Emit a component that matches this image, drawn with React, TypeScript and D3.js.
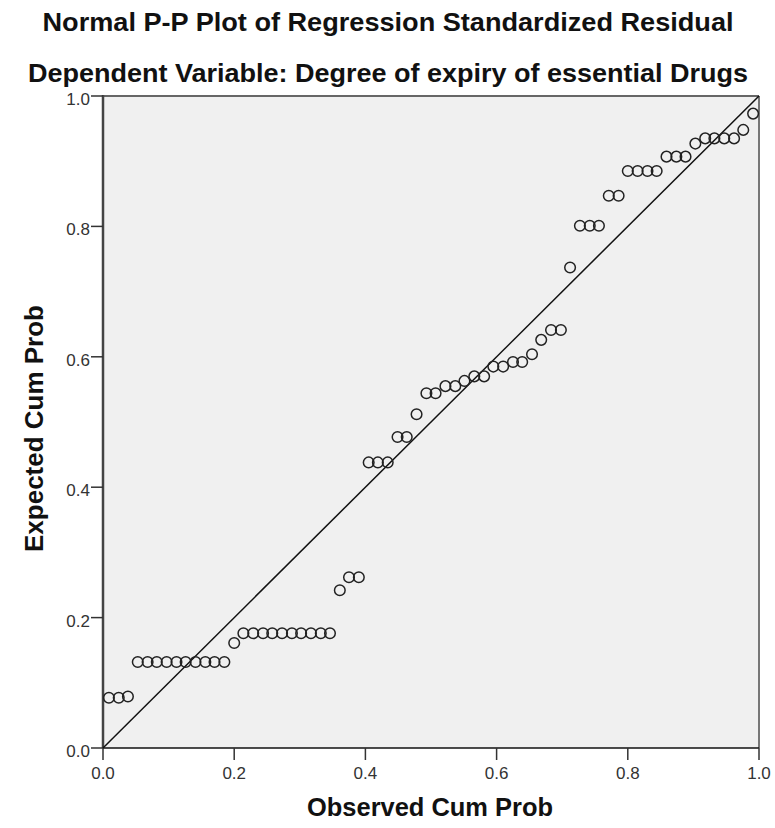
import React from "react";
import * as d3 from "d3";

const observedCumProb = [
  0.009, 0.024, 0.038, 0.053, 0.068, 0.082, 0.097, 0.112, 0.126, 0.141,
  0.156, 0.170, 0.185, 0.200, 0.214, 0.229, 0.244, 0.258, 0.273, 0.288,
  0.302, 0.317, 0.332, 0.346, 0.361, 0.375, 0.390, 0.405, 0.419, 0.434,
  0.449, 0.463, 0.478, 0.493, 0.507, 0.522, 0.537, 0.551, 0.566, 0.581,
  0.595, 0.610, 0.625, 0.639, 0.654, 0.668, 0.683, 0.698, 0.712, 0.727,
  0.742, 0.756, 0.771, 0.786, 0.800, 0.815, 0.830, 0.844, 0.859, 0.874,
  0.888, 0.903, 0.918, 0.932, 0.947, 0.962, 0.976, 0.991,
];

const expectedCumProb = [
  0.077, 0.077, 0.079, 0.132, 0.132, 0.132, 0.132, 0.132, 0.132, 0.132,
  0.132, 0.132, 0.132, 0.161, 0.176, 0.176, 0.176, 0.176, 0.176, 0.176,
  0.176, 0.176, 0.176, 0.176, 0.242, 0.262, 0.262, 0.438, 0.438, 0.438,
  0.477, 0.477, 0.512, 0.544, 0.544, 0.555, 0.555, 0.563, 0.570, 0.570,
  0.585, 0.585, 0.592, 0.592, 0.604, 0.626, 0.641, 0.641, 0.737, 0.801,
  0.801, 0.801, 0.847, 0.847, 0.885, 0.885, 0.885, 0.885, 0.907, 0.907,
  0.907, 0.927, 0.935, 0.935, 0.935, 0.935, 0.948, 0.973,
];

const tickValues = [0, 0.2, 0.4, 0.6, 0.8, 1.0];

const titleLine1 = "Normal P-P Plot of Regression Standardized Residual";
const titleLine2 = "Dependent Variable: Degree of expiry of essential Drugs";
const xTitle = "Observed Cum Prob";
const yTitle = "Expected Cum Prob";

export default function App() {
  const W = 775;
  const H = 828;
  const left = 103;
  const right = 759;
  const top = 96;
  const bottom = 748;

  const x = d3.scaleLinear().domain([0, 1]).range([left, right]);
  const y = d3.scaleLinear().domain([0, 1]).range([bottom, top]);
  const fmt = d3.format(".1f");
  const font = "'Liberation Sans', Arial, sans-serif";

  const points = observedCumProb.map((v, i) => [v, expectedCumProb[i]]);
  const diag = d3.line<number[]>()
    .x((d) => x(d[0]))
    .y((d) => y(d[1]))([[0, 0], [1, 1]]);

  return (
    <svg
      width={W}
      height={H}
      style={{ position: "absolute", left: 0, top: 0, background: "#fff" }}
      fontFamily={font}
    >
      <rect x={0} y={0} width={W} height={H} fill="#fff" />
      <text x={388} y={31} textAnchor="middle" fontSize={25} fontWeight="bold"
        textLength={691} lengthAdjust="spacingAndGlyphs" fill="#111">{titleLine1}</text>
      <text x={388} y={82} textAnchor="middle" fontSize={25} fontWeight="bold"
        textLength={720} lengthAdjust="spacingAndGlyphs" fill="#111">{titleLine2}</text>

      <rect x={left} y={top} width={right - left} height={bottom - top} fill="#f0f0f0" />

      {/* frame */}
      <line x1={left} x2={right} y1={top} y2={top} stroke="#666" strokeWidth={2} />
      <line x1={right} x2={right} y1={top} y2={bottom} stroke="#777" strokeWidth={2} />
      <line x1={left} x2={left} y1={top - 1} y2={bottom} stroke="#444" strokeWidth={2.5} />
      <line x1={left} x2={right} y1={bottom} y2={bottom} stroke="#111" strokeWidth={1.5} />

      {/* y ticks */}
      {tickValues.map((t) => (
        <g key={"y" + t}>
          <line x1={left - 12} x2={left} y1={y(t)} y2={y(t)} stroke="#333" strokeWidth={1.5} />
          <text x={left - 13} y={y(t) + 9} textAnchor="end" fontSize={17} fill="#333">{fmt(t)}</text>
        </g>
      ))}
      {/* x ticks */}
      {tickValues.map((t) => (
        <g key={"x" + t}>
          <line x1={x(t)} x2={x(t)} y1={bottom} y2={bottom + 12} stroke="#333" strokeWidth={1.5} />
          <text x={x(t)} y={779} textAnchor="middle" fontSize={17} fill="#333">{fmt(t)}</text>
        </g>
      ))}

      <path d={diag || ""} stroke="#111" strokeWidth={1.5} fill="none" />

      {points.map((p, i) => (
        <circle key={i} cx={x(p[0])} cy={y(p[1])} r={5.3} fill="none" stroke="#222" strokeWidth={1.5} />
      ))}

      <text x={430} y={816} textAnchor="middle" fontSize={25} fontWeight="bold"
        textLength={246} lengthAdjust="spacingAndGlyphs" fill="#111">{xTitle}</text>
      <text transform={`translate(43,428.5) rotate(-90)`} textAnchor="middle" fontSize={25}
        fontWeight="bold" textLength={247} lengthAdjust="spacingAndGlyphs" fill="#111">{yTitle}</text>
    </svg>
  );
}
